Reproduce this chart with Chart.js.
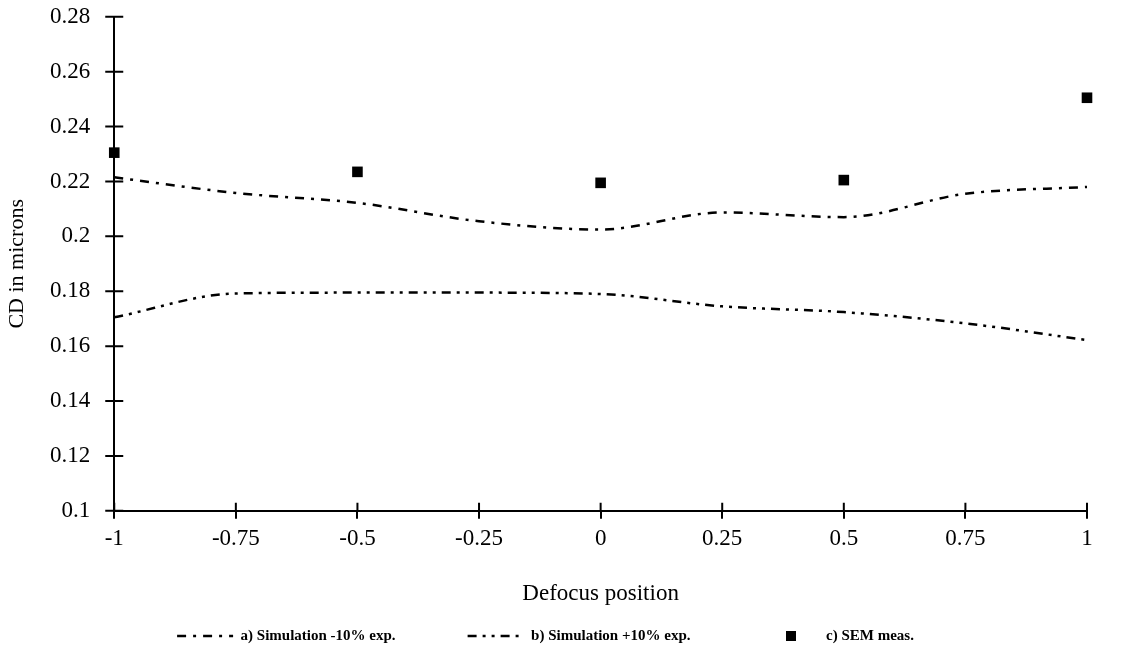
<!DOCTYPE html>
<html>
<head>
<meta charset="utf-8">
<script src="https://cdn.jsdelivr.net/npm/chart.js@4/dist/chart.umd.min.js"></script>
<style>
  html, body { margin: 0; padding: 0; background: #fff; }
  #wrap { width: 1123px; height: 666px; }
</style>
</head>
<body>
<div id="wrap"><canvas id="cdChart"></canvas></div>
<script>
// data
const defocus = [-1, -0.75, -0.5, -0.25, 0, 0.25, 0.5, 0.75, 1];
const simMinus10 = [0.2215, 0.2158, 0.2122, 0.2055, 0.2025, 0.2087, 0.207, 0.2155, 0.218];
const simPlus10 = [0.1705, 0.1792, 0.1795, 0.1795, 0.179, 0.1745, 0.1724, 0.1683, 0.1622];
const semX = [-1, -0.5, 0, 0.5, 1];
const semCD = [0.2305, 0.2235, 0.2195, 0.2205, 0.2505];

const xTicks = [-1, -0.75, -0.5, -0.25, 0, 0.25, 0.5, 0.75, 1];
const xTickLabels = ["-1", "-0.75", "-0.5", "-0.25", "0", "0.25", "0.5", "0.75", "1"];
const yTicks = [0.1, 0.12, 0.14, 0.16, 0.18, 0.2, 0.22, 0.24, 0.26, 0.28];
const yTickLabels = ["0.1", "0.12", "0.14", "0.16", "0.18", "0.2", "0.22", "0.24", "0.26", "0.28"];

const seriesNames = ["a) Simulation -10% exp.", "b) Simulation +10% exp.", "c) SEM meas."];
const dashA = [9, 7, 3, 7];
const dashB = [9, 6, 3, 6, 3, 6];

const serif = "'Liberation Serif', 'Times New Roman', serif";

// small square used as legend symbol for the SEM points
const semSymbol = document.createElement("canvas");
semSymbol.width = 10;
semSymbol.height = 10;
semSymbol.getContext("2d").fillRect(0, 0, 10, 10);

// tick marks that cross the axis lines
const axisTicks = {
    id: "axisTicks",
    afterDraw(chart) {
        const ctx = chart.ctx;
        const xs = chart.scales.x, ys = chart.scales.y;
        ctx.save();
        ctx.strokeStyle = "#000";
        ctx.lineWidth = 2;
        ctx.beginPath();
        xTicks.forEach(v => {
            const px = xs.getPixelForValue(v);
            ctx.moveTo(px, ys.bottom);
            ctx.lineTo(px, ys.bottom - 8);
        });
        yTicks.forEach(v => {
            const py = ys.getPixelForValue(v);
            ctx.moveTo(xs.left - 9, py);
            ctx.lineTo(xs.left + 9, py);
        });
        ctx.stroke();
        ctx.restore();
    }
};

const ctx = document.getElementById("cdChart").getContext("2d");

new Chart(ctx, {
    type: "line",
    data: {
        datasets: [{
            label: seriesNames[0],
            data: defocus.map((x, i) => ({ x: x, y: simMinus10[i] })),
            borderColor: "#000",
            borderWidth: 2.5,
            borderDash: dashA,
            pointRadius: 0,
            pointStyle: "line",
            cubicInterpolationMode: "monotone",
            fill: false
        }, {
            label: seriesNames[1],
            data: defocus.map((x, i) => ({ x: x, y: simPlus10[i] })),
            borderColor: "#000",
            borderWidth: 2.5,
            borderDash: dashB,
            pointRadius: 0,
            pointStyle: "line",
            cubicInterpolationMode: "monotone",
            fill: false
        }, {
            label: seriesNames[2],
            data: semX.map((x, i) => ({ x: x, y: semCD[i] })),
            showLine: false,
            pointStyle: "rect",
            pointRadius: 7.5,
            backgroundColor: "#000",
            borderColor: "#000",
            borderWidth: 0,
            clip: false
        }]
    },
    options: {
        responsive: true,
        maintainAspectRatio: false,
        animation: false,
        layout: { padding: { top: 0, right: 36, bottom: 12.5, left: 4 } },
        plugins: {
            legend: {
                display: true,
                position: "bottom",
                labels: {
                    color: "#000",
                    font: { family: serif, size: 15, weight: "bold" },
                    usePointStyle: true,
                    pointStyleWidth: 56,
                    padding: 72,
                    generateLabels(chart) {
                        const items = Chart.defaults.plugins.legend.labels.generateLabels(chart);
                        items[0].lineDash = dashA;
                        items[0].lineWidth = 2.5;
                        items[1].lineDash = dashB;
                        items[1].lineWidth = 2.5;
                        items[2].pointStyle = semSymbol;
                        return items;
                    }
                }
            },
            tooltip: { enabled: false }
        },
        scales: {
            x: {
                type: "linear",
                min: -1,
                max: 1,
                afterBuildTicks(scale) {
                    scale.ticks = xTicks.map(v => ({ value: v }));
                },
                ticks: {
                    color: "#000",
                    font: { family: serif, size: 23 },
                    padding: 6,
                    maxRotation: 0,
                    callback: (v, i) => xTickLabels[i]
                },
                grid: {
                    drawOnChartArea: false,
                    color: "#000",
                    lineWidth: 2,
                    tickLength: 8
                },
                border: { color: "#000", width: 2 },
                title: {
                    display: true,
                    text: "Defocus position",
                    color: "#000",
                    font: { family: serif, size: 23 },
                    // legend row sits close under the title, so the bottom padding is pulled in
                    padding: { top: 21.5, bottom: -51 }
                }
            },
            y: {
                type: "linear",
                min: 0.1,
                max: 0.28,
                afterBuildTicks(scale) {
                    scale.ticks = yTicks.map(v => ({ value: v }));
                },
                ticks: {
                    color: "#000",
                    font: { family: serif, size: 23 },
                    padding: 3,
                    callback: (v, i) => yTickLabels[i]
                },
                grid: {
                    drawOnChartArea: false,
                    color: "#000",
                    tickColor: "rgba(0,0,0,0)",
                    lineWidth: 2,
                    tickLength: 21
                },
                border: { color: "#000", width: 2 },
                title: {
                    display: true,
                    text: "CD in microns",
                    color: "#000",
                    font: { family: serif, size: 22 },
                    padding: { top: 0, bottom: 16.6 }
                }
            }
        }
    },
    plugins: [axisTicks]
});
</script>
</body>
</html>
